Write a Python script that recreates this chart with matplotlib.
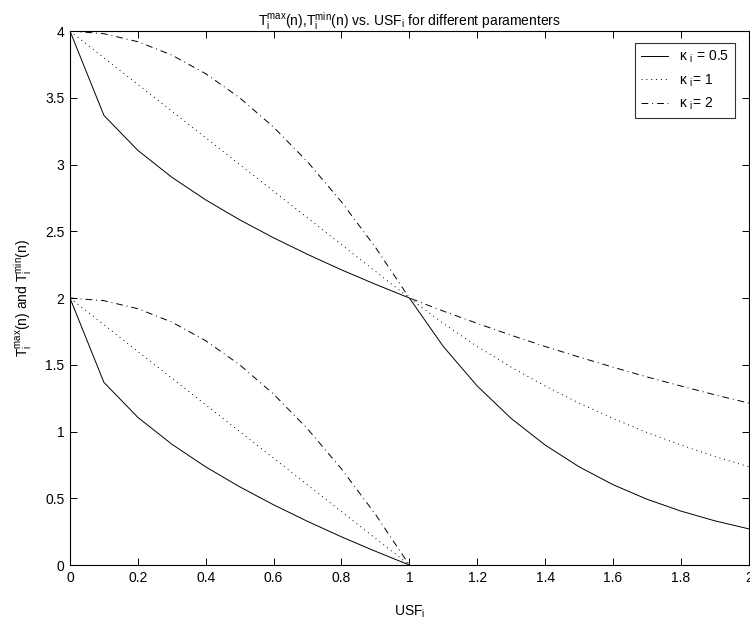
import matplotlib
matplotlib.use("Agg")
import matplotlib.pyplot as plt

plt.rcParams['font.family'] = ['Liberation Sans', 'DejaVu Sans']
plt.rcParams['mathtext.fontset'] = 'custom'
plt.rcParams['mathtext.rm'] = 'Liberation Sans'
plt.rcParams['mathtext.it'] = 'Liberation Sans'
plt.rcParams['mathtext.default'] = 'regular'

# USF_i sample points
usf_full = [0.0, 0.1, 0.2, 0.3, 0.4, 0.5, 0.6, 0.7, 0.8, 0.9, 1.0,
            1.1, 1.2, 1.3, 1.4, 1.5, 1.6, 1.7, 1.8, 1.9, 2.0]
usf_half = [0.0, 0.1, 0.2, 0.3, 0.4, 0.5, 0.6, 0.7, 0.8, 0.9, 1.0]

# T_max curves (0..2)
tmax_k05 = [4.0, 3.368, 3.106, 2.905, 2.735, 2.586, 2.451, 2.327, 2.211, 2.103, 2.0,
            1.637, 1.341, 1.098, 0.899, 0.736, 0.602, 0.493, 0.404, 0.331, 0.271]
tmax_k1 = [4.0, 3.8, 3.6, 3.4, 3.2, 3.0, 2.8, 2.6, 2.4, 2.2, 2.0,
           1.810, 1.637, 1.482, 1.341, 1.213, 1.098, 0.993, 0.899, 0.813, 0.736]
tmax_k2 = [4.0, 3.98, 3.92, 3.82, 3.68, 3.5, 3.28, 3.02, 2.72, 2.38, 2.0,
           1.902, 1.810, 1.721, 1.637, 1.558, 1.482, 1.409, 1.341, 1.275, 1.213]

# T_min curves (0..1)
tmin_k05 = [2.0, 1.368, 1.106, 0.905, 0.735, 0.586, 0.451, 0.327, 0.211, 0.103, 0.0]
tmin_k1 = [2.0, 1.8, 1.6, 1.4, 1.2, 1.0, 0.8, 0.6, 0.4, 0.2, 0.0]
tmin_k2 = [2.0, 1.98, 1.92, 1.82, 1.68, 1.5, 1.28, 1.02, 0.72, 0.38, 0.0]

labels = ['κ $_{i}$ = 0.5', 'κ $_{i}$= 1', 'κ $_{i}$= 2']

fig = plt.figure(figsize=(7.5, 6.28), dpi=100)
ax = fig.add_axes([0.0933, 0.1003, 0.905, 0.8503])

lw = 0.7
ax.plot(usf_full, tmax_k05, 'k-', lw=lw, label=labels[0])
ax.plot(usf_full, tmax_k1, 'k', ls=(0, (1, 4)), lw=lw, label=labels[1])
ax.plot(usf_full, tmax_k2, 'k', ls=(0, (7, 4, 1, 4)), lw=lw, label=labels[2])
ax.plot(usf_half, tmin_k05, 'k-', lw=lw)
ax.plot(usf_half, tmin_k1, 'k', ls=(0, (1, 4)), lw=lw)
ax.plot(usf_half, tmin_k2, 'k', ls=(0, (7, 4, 1, 4)), lw=lw)

ax.set_xlim(0, 2)
ax.set_ylim(0, 4)
xt = [0, 0.2, 0.4, 0.6, 0.8, 1, 1.2, 1.4, 1.6, 1.8, 2]
ax.set_xticks(xt)
ax.set_xticklabels(['0', '0.2', '0.4', '0.6', '0.8', '1', '1.2', '1.4', '1.6', '1.8', '2'])
yt = [0, 0.5, 1, 1.5, 2, 2.5, 3, 3.5, 4]
ax.set_yticks(yt)
ax.set_yticklabels(['0', '0.5', '1', '1.5', '2', '2.5', '3', '3.5', '4'])
ax.tick_params(direction='in', top=True, right=True, length=5, width=0.7,
               labelsize=10, pad=4)
for s in ax.spines.values():
    s.set_linewidth(0.8)

ax.set_xlabel('USF$_{i}$', fontsize=10, labelpad=14)
ax.set_ylabel('T$_{i}^{max}$(n) and T$_{i}^{min}$(n)', fontsize=10, labelpad=8)
ax.set_title('T$_{i}^{max}$(n),T$_{i}^{min}$(n) vs. USF$_{i}$ for different paramenters',
             fontsize=10, pad=4)

leg = ax.legend(loc='upper right', fontsize=10, frameon=True, fancybox=False,
                edgecolor='k', handlelength=2.0, borderpad=0.4, labelspacing=0.5,
                bbox_to_anchor=(0.99, 0.99))
leg.get_frame().set_linewidth(0.8)

fig.savefig('out.png', dpi=100)
